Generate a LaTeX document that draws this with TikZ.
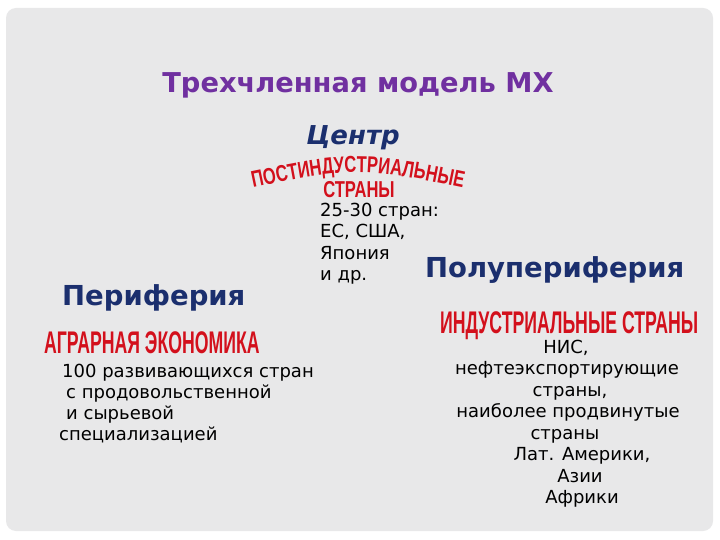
\documentclass[tikz,border=0pt]{standalone}
\usepackage{fontspec}
\usetikzlibrary{decorations.text}
\setmainfont{DejaVu Sans}
\newfontfamily\bodyfont{DejaVu Sans}
\newfontfamily\wafont[FakeStretch=0.72]{Liberation Sans}
\newfontfamily\wafontn[FakeStretch=0.565]{Liberation Sans}
\definecolor{cardgray}{HTML}{E8E8E9}
\definecolor{titlepurple}{HTML}{7030A0}
\definecolor{navy}{HTML}{1B2F6E}
\definecolor{wared}{HTML}{D3101C}
\begin{document}
\begin{tikzpicture}[x=1pt,y=-1pt,
  bodytext/.style={inner sep=0pt, font=\bodyfont\fontsize{18}{21.5}\selectfont, text=black},
  headtext/.style={inner sep=0pt, font=\bfseries\fontsize{27.5}{30}\selectfont, text=navy},
  wordart/.style={inner sep=0pt, font=\wafontn\bfseries\fontsize{31.3}{34}\selectfont, text=wared}]
\useasboundingbox (0,0) rectangle (720,540);
\fill[white] (0,0) rectangle (720,540);
\fill[cardgray, rounded corners=10pt] (6,8) rectangle (713,531);

% title
\node[inner sep=0pt, anchor=base, font=\bfseries\fontsize{27.3}{30}\selectfont, text=titlepurple] (title) at (358,93) {Трехчленная модель МХ};

% centre
\node[headtext, anchor=base, font=\bfseries\itshape\fontsize{26}{30}\selectfont] (centr) at (353,145) {Центр};
\path[decorate, decoration={text along path, text align=center,
  text={|\wafont\bfseries\fontsize{23}{26}\selectfont\color{wared}|ПОСТИНДУСТРИАЛЬНЫЕ}}]
  (220,194.9) .. controls (358,165.1) .. (496,194.9);
\node[wordart, anchor=base, font=\wafont\bfseries\fontsize{23}{26}\selectfont] (centrwa2) at (359,198) {СТРАНЫ};
\node[bodytext, anchor=base west] (c1) at (320,216) {25-30 стран:};
\node[bodytext, anchor=base west] (c2) at (320,237.5) {ЕС, США,};
\node[bodytext, anchor=base west] (c3) at (320,259) {Япония};
\node[bodytext, anchor=base west] (c4) at (320,280.5) {и др.};

% periphery
\node[headtext, anchor=base west] (peri) at (62,305) {Периферия};
\node[wordart, anchor=base west] (periwa) at (44,353) {АГРАРНАЯ ЭКОНОМИКА};
\node[bodytext, anchor=base west] (p1) at (62,377) {100 развивающихся стран};
\node[bodytext, anchor=base west] (p2) at (66,398) {с продовольственной};
\node[bodytext, anchor=base west] (p3) at (66,419) {и сырьевой};
\node[bodytext, anchor=base west] (p4) at (59,440) {специализацией};

% semi-periphery
\node[headtext, anchor=base west] (semi) at (425,277) {Полупериферия};
\node[wordart, anchor=base west] (semiwa) at (440,333) {ИНДУСТРИАЛЬНЫЕ СТРАНЫ};
\node[bodytext, anchor=base] (s1) at (566,353) {НИС,};
\node[bodytext, anchor=base] (s2) at (567,374.5) {нефтеэкспортирующие};
\node[bodytext, anchor=base] (s3) at (570,396) {страны,};
\node[bodytext, anchor=base] (s4) at (568,417.5) {наиболее продвинутые};
\node[bodytext, anchor=base] (s5) at (565,439) {страны};
\node[bodytext, anchor=base] (s6) at (582,460.5) {Лат. Америки,};
\node[bodytext, anchor=base] (s7) at (580,482) {Азии};
\node[bodytext, anchor=base] (s8) at (582,503.5) {Африки};
\end{tikzpicture}
\end{document}
